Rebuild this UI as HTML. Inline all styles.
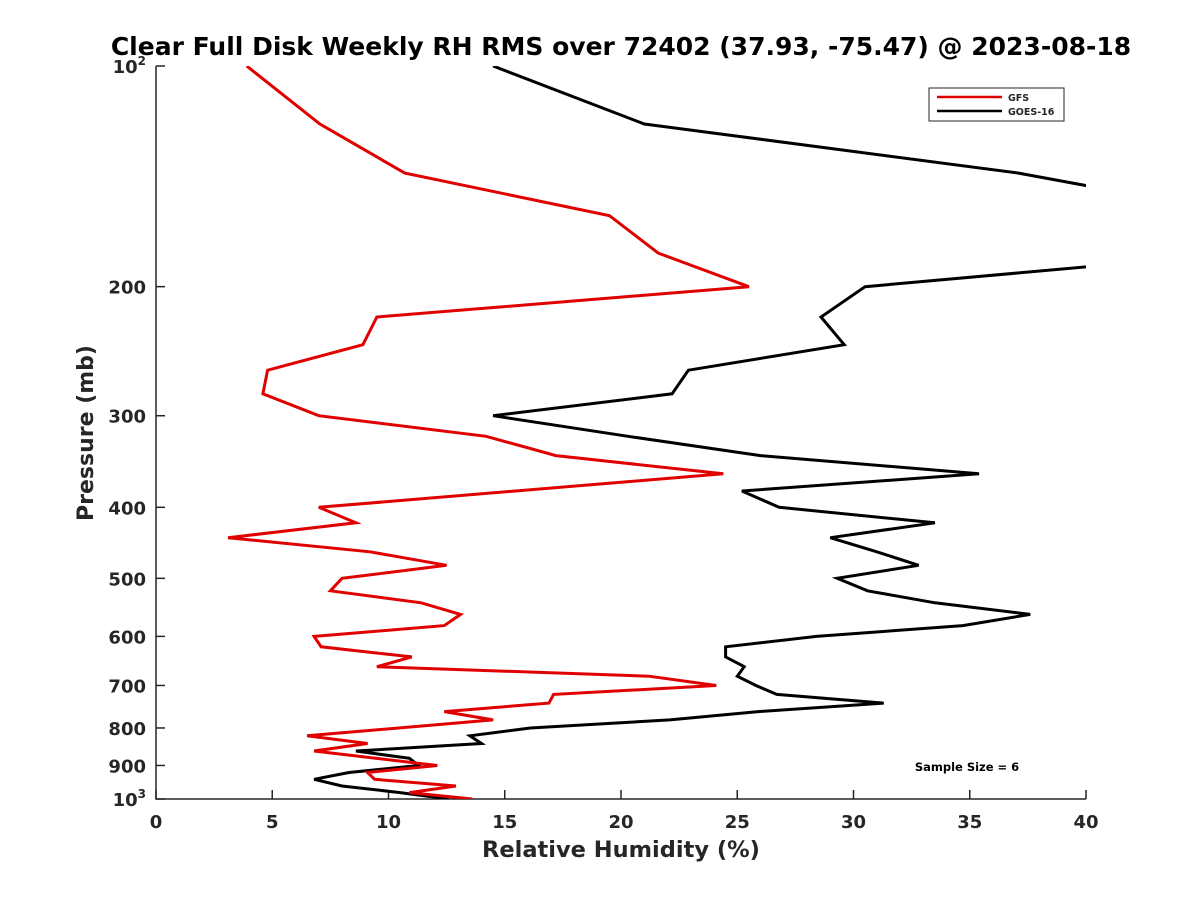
<!DOCTYPE html>
<html><head><meta charset="utf-8"><style>
body{margin:0;background:#fff;font-family:"DejaVu Sans",sans-serif}
svg text{font-family:"DejaVu Sans",sans-serif;font-weight:bold;fill:#262626}
</style></head><body>
<svg id="chart" width="1200" height="900" xmlns="http://www.w3.org/2000/svg">
<defs><clipPath id="clip"><rect x="156" y="66" width="930" height="733"/></clipPath></defs>
<text x="621" y="55" text-anchor="middle" font-size="25" style="fill:#000">Clear Full Disk Weekly RH RMS over 72402 (37.93, -75.47) @ 2023-08-18</text>
<g id="axes"></g>
<g id="series" clip-path="url(#clip)"></g>
<g>
<rect x="929" y="88" width="135" height="33" fill="#fff" stroke="#262626" stroke-width="1"/>
<line x1="937" y1="97" x2="1002" y2="97" stroke="#e00000" stroke-width="2.5"/>
<text x="1008" y="101" font-size="9.5">GFS</text>
<line x1="937" y1="111" x2="1002" y2="111" stroke="#000" stroke-width="2.5"/>
<text x="1008" y="115" font-size="9.5">GOES-16</text>
</g>
<text x="967" y="771" text-anchor="middle" font-size="11.5" style="fill:#000">Sample Size = 6</text>
<text x="621" y="857" text-anchor="middle" font-size="22.5">Relative Humidity (%)</text>
<text transform="translate(93,433) rotate(-90)" text-anchor="middle" font-size="22">Pressure (mb)</text>
</svg>
<script>
const xTicks=[0,5,10,15,20,25,30,35,40];
const yTicks=[100,200,300,400,500,600,700,800,900,1000];
const gfsP=[100,120,140,160,180,200,220,240,260,280,300,320,340,360,400,420,440,460,480,500,520,540,560,580,600,620,640,660,680,700,720,740,760,780,820,840,860,900,920,940,960,980,1000];
const gfsRH=[3.9,7.05,10.7,19.5,21.6,25.5,9.5,8.9,4.8,4.6,7.0,14.2,17.2,24.4,7.0,8.6,3.1,9.2,12.5,8.0,7.5,11.4,13.1,12.4,6.8,7.1,11.0,9.5,21.2,24.1,17.1,16.9,12.4,14.5,6.5,9.1,6.8,12.1,9.1,9.4,12.9,10.9,13.6];
const goesP=[100,120,140,160,180,200,220,240,260,280,300,320,340,360,380,400,420,440,460,480,500,520,540,560,580,600,620,640,660,680,700,720,740,760,780,800,820,840,860,880,900,920,940,960,980,1000];
const goesRH=[14.5,21.0,37.1,47,46.6,30.5,28.6,29.6,22.9,22.2,14.5,20.3,26.0,35.4,25.2,26.8,33.5,29.0,31.0,32.8,29.3,30.6,33.5,37.6,34.7,28.4,24.5,24.5,25.3,25.0,25.8,26.7,31.3,25.9,22.1,16.1,13.5,14.0,8.6,10.9,11.3,8.3,6.8,8.0,10.5,12.6];
const X0=156,X1=1086,Y0=66,Y1=799;
const xs=v=>X0+(v/40)*(X1-X0);
const ys=p=>Y0+(Math.log10(p)-2)*(Y1-Y0);
const NS="http://www.w3.org/2000/svg";
function mk(t,a,parent){const e=document.createElementNS(NS,t);for(const k in a)e.setAttribute(k,a[k]);parent.appendChild(e);return e;}
const axes=document.getElementById('axes');
const ax=mk('path',{d:`M${X0},${Y0}V${Y1}H${X1}`,fill:'none',stroke:'#262626','stroke-width':1.5},axes);


xTicks.forEach(v=>{
 const x=xs(v);
 mk('line',{x1:x,x2:x,y1:Y1,y2:Y1-9,stroke:'#262626','stroke-width':1.5},axes);
 const t=mk('text',{x:x,y:Y1+29,'text-anchor':'middle','font-size':18},axes);
 t.textContent=v;
 
 
});
yTicks.forEach(p=>{
 const y=ys(p);
 mk('line',{x1:X0,x2:X0+9,y1:y,y2:y,stroke:'#262626','stroke-width':1.5},axes);
 const t=mk('text',{x:X0-10,y:y+7,'text-anchor':'end','font-size':18},axes);
 if(p===100){t.innerHTML='10<tspan dy="-8" font-size="12">2</tspan>';}
 else if(p===1000){t.innerHTML='10<tspan dy="-8" font-size="12">3</tspan>';}
 else t.textContent=p;
 
 
});
const ser=document.getElementById('series');
function line(P,R,color,name){
 const pts=P.map((p,i)=>xs(R[i]).toFixed(1)+','+ys(p).toFixed(1)).join(' ');
 const l=mk('polyline',{points:pts,fill:'none',stroke:color,'stroke-width':3,'stroke-linejoin':'miter'},ser);
 
 
}
line(goesP,goesRH,'#000','goes16-line');
line(gfsP,gfsRH,'#e00000','gfs-line');
</script>
</body></html>
